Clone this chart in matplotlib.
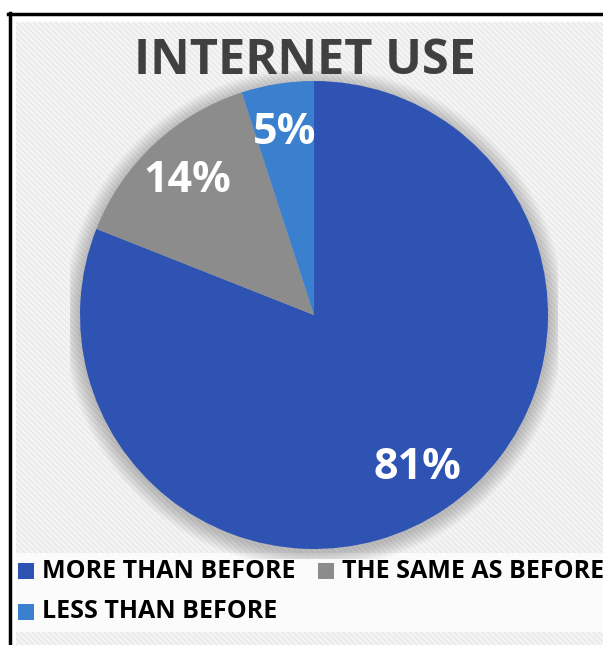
import matplotlib
matplotlib.use("Agg")
import matplotlib.pyplot as plt
from matplotlib.patches import Rectangle, Circle
from matplotlib.lines import Line2D

# data
categories = ["MORE THAN BEFORE", "THE SAME AS BEFORE", "LESS THAN BEFORE"]
shares = [81, 14, 5]
colors = ["#2E53B3", "#8C8C8C", "#3B80CF"]
title = "INTERNET USE"

W, H = 603, 645
fig = plt.figure(figsize=(W / 100, H / 100), dpi=100)
fig.patch.set_facecolor("white")
FONT = "Open Sans"


def fx(x):
    return x / W


def fy(y):
    return 1 - y / H


# striped background inside the frame
plt.rcParams["hatch.color"] = "#e2e2e2"
plt.rcParams["hatch.linewidth"] = 0.6
bg = Rectangle((fx(16), 0), 1 - fx(16), fy(22), transform=fig.transFigure,
               facecolor="#f4f4f4", edgecolor="#e2e2e2", hatch="\\\\\\\\\\\\",
               linewidth=0, zorder=-2)
fig.patches.append(bg)
# lighter legend band
band = Rectangle((fx(16), fy(632)), 1 - fx(16), fy(553) - fy(632),
                 transform=fig.transFigure, facecolor="#fbfbfb",
                 edgecolor="none", zorder=-1)
fig.patches.append(band)

# black frame (top and left only)
fig.add_artist(Line2D([fx(8), 1], [fy(14), fy(14)], color="black", lw=2.5,
                      transform=fig.transFigure))
fig.add_artist(Line2D([fx(9.5), fx(9.5)], [fy(13), 0], color="black", lw=2.5,
                      transform=fig.transFigure))

# pie axes: centre (314, 315), radius 234 px
cx, cy, r = 314, 315, 234
ax = fig.add_axes([fx(cx - r - 10), fy(cy + r + 10), 2 * (r + 10) / W,
                   2 * (r + 10) / H])
ax.set_zorder(2)
ax.patch.set_alpha(0)
lim = (r + 10) / r

# soft shadow
for i in range(12):
    ax.add_patch(Circle((0.0, -0.012), 1.0 + 0.006 * (12 - i), color="black",
                        alpha=0.02, lw=0, zorder=0))

wedges, _, autotexts = ax.pie(
    shares, colors=colors, startangle=90, counterclock=False, radius=1.0,
    autopct=lambda p: "%d%%" % round(p), pctdistance=0.79,
    wedgeprops=dict(linewidth=0), frame=False,
    textprops=dict(color="white", fontsize=31, fontweight="bold",
                   family=FONT))
ax.set_xlim(-lim, lim)
ax.set_ylim(-lim, lim)
ax.set_aspect("auto")
ax.axis("off")

fig.text(fx(305), fy(62), title, ha="center", va="center", fontsize=35,
         fontweight="bold", color="#404040", family=FONT)

# legend, laid out by hand
leg_pos = [(18, 571), (318, 571), (18, 612)]
for (x, y), lab, col in zip(leg_pos, categories, colors):
    fig.patches.append(Rectangle((fx(x), fy(y + 8)), 16 / W, 16 / H,
                                 transform=fig.transFigure, facecolor=col,
                                 edgecolor="none", zorder=2))
    fig.text(fx(x + 24), fy(y), lab, ha="left", va="center", fontsize=18,
             fontweight="bold", color="black", family=FONT)

fig.savefig("out.png", dpi=100)
